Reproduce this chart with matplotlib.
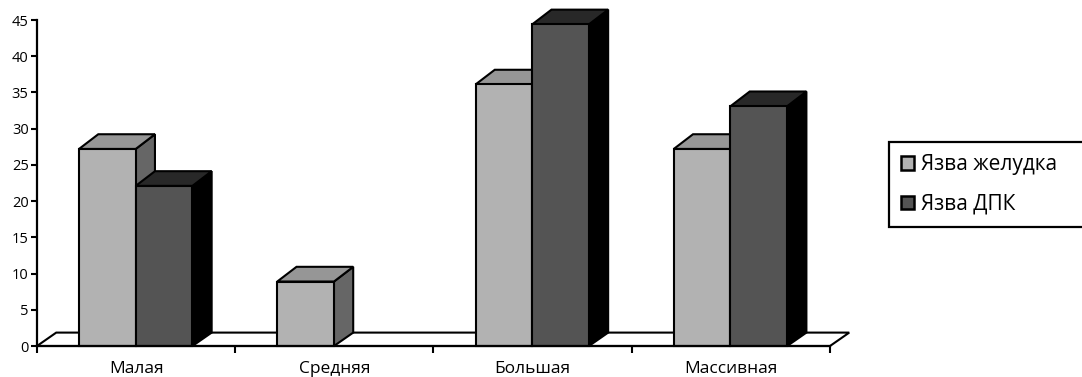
import matplotlib
matplotlib.use('Agg')
import matplotlib.pyplot as plt
from matplotlib.patches import Patch

plt.rcParams['font.family'] = ['Open Sans', 'DejaVu Sans']

# data
categories = ['Малая', 'Средняя', 'Большая', 'Массивная']
stomach = [27.2, 8.9, 36.1, 27.2]
duodenum = [22.1, 0, 44.4, 33.1]
y_ticks = [0, 5, 10, 15, 20, 25, 30, 35, 40, 45]
series_names = ['Язва желудка', 'Язва ДПК']

# colours: front, top, side
light = ('#b2b2b2', '#969696', '#666666')
dark = ('#545454', '#282828', '#000000')

W, H = 1082, 377
fig = plt.figure(figsize=(W / 100, H / 100), dpi=100)
ax = fig.add_axes([37 / W, 1 - 346 / H, (830 - 37) / W, (346 - 20) / H])
ax.set_xlim(0, 4)
ax.set_ylim(0, 45)

# 3d look
dx = 0.097
dy = 2.03
floor_dy = 1.85
bar_w = 0.286
offset = 0.212
lw = 1.5


def bar3d(x, h, cols):
    if h <= 0:
        return
    side = [(x + bar_w, 0), (x + bar_w + dx, floor_dy), (x + bar_w + dx, h + dy), (x + bar_w, h)]
    top = [(x, h), (x + dx, h + dy), (x + bar_w + dx, h + dy), (x + bar_w, h)]
    ax.fill(*zip(*side), fc=cols[2], ec='black', lw=lw, clip_on=False, zorder=3, joinstyle='miter')
    ax.fill(*zip(*top), fc=cols[1], ec='black', lw=lw, clip_on=False, zorder=3, joinstyle='miter')
    ax.bar(x, h, bar_w, align='edge', fc=cols[0], ec='black', lw=lw, clip_on=False, zorder=3)


# floor
ax.fill([0, dx, 4 + dx, 4], [0, floor_dy, floor_dy, 0], fc='white', ec='black', lw=lw, clip_on=False, zorder=1)

for i in range(len(categories)):
    bar3d(i + offset, stomach[i], light)
    bar3d(i + offset + bar_w, duodenum[i], dark)

for s in ['top', 'right']:
    ax.spines[s].set_visible(False)
for s in ['left', 'bottom']:
    ax.spines[s].set_linewidth(1.6)
    ax.spines[s].set_zorder(4)

ax.set_yticks(y_ticks)
ax.set_xticks(range(5))
ax.set_xticklabels([])
ax.set_xticks([i + 0.5 for i in range(4)], categories, minor=True)
ax.tick_params(axis='x', which='major', length=5, width=1.5)
ax.tick_params(axis='x', which='minor', length=0, pad=11, labelsize=12.5)
ax.tick_params(axis='y', length=4.5, width=1.5, pad=1.5, labelsize=10.5)

handles = [Patch(fc=light[0], ec='black', lw=1.8), Patch(fc=dark[0], ec='black', lw=1.8)]
# frame runs off the right edge of the picture like the original
leg = fig.legend(handles, series_names, loc='upper left',
                 bbox_to_anchor=(889 / W, 1 - 142 / H, 210 / W, 0), bbox_transform=fig.transFigure,
                 mode='expand', borderaxespad=0, fancybox=False, framealpha=1, edgecolor='black',
                 fontsize=15, handlelength=0.63, handleheight=0.63, handletextpad=0.34,
                 labelspacing=0.9, borderpad=0.58)
leg.get_frame().set_linewidth(1.6)

fig.savefig('out.png', dpi=100)
